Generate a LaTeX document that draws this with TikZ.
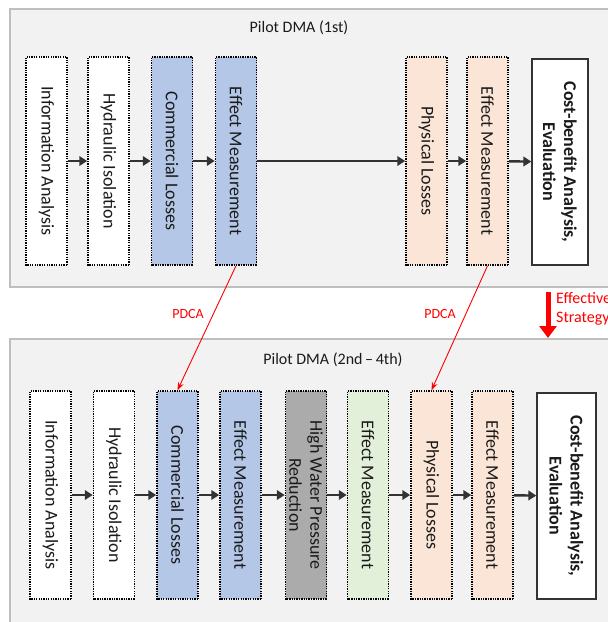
\documentclass[tikz,border=0pt]{standalone}
\usepackage{fontspec}
\setmainfont{Carlito}
\usetikzlibrary{arrows.meta}
\definecolor{panelfill}{HTML}{F2F2F2}
\definecolor{panelline}{HTML}{BFBFBF}
\definecolor{bluefill}{HTML}{B4C7E7}
\definecolor{orangefill}{HTML}{FBE5D6}
\definecolor{grayfill}{HTML}{ABABAB}
\definecolor{greenfill}{HTML}{E2F0D9}
\definecolor{arrowgray}{HTML}{333333}
\definecolor{txt}{HTML}{1A1A1A}
\begin{document}
\begin{tikzpicture}[x=1pt,y=-1pt,
  panel/.style={fill=panelfill, draw=panelline, line width=1.8pt},
  paneltitle/.style={font=\fontsize{16}{18}\selectfont, text=txt},
  box/.style={draw=black, line width=1.5pt, dash pattern=on 1.3pt off 1.1pt,
    rotate=-90, minimum width=208pt, minimum height=41pt, inner sep=0pt,
    font=\fontsize{18}{21}\selectfont, text=txt, align=center, fill=white},
  endbox/.style={draw=arrowgray, line width=1.3pt, rotate=-90,
    minimum width=206pt, inner sep=0pt, fill=white,
    font=\bfseries\fontsize{18}{21}\selectfont, text=txt, align=center},
  arr/.style={draw=arrowgray, line width=2.4pt, -{Triangle[length=8pt,width=9.5pt]}},
  redarr/.style={draw=red, line width=0.9pt, -{Stealth[length=8pt,width=6pt]}},
  redlabel/.style={text=red, font=\fontsize{14}{17}\selectfont},
]
\useasboundingbox (0,0) rectangle (608,622);
\clip (0,0) rectangle (608,622);

% panels
\path[panel] (10,9) rectangle (625,287);
\path[panel] (10,339) rectangle (625,640);
\node[paneltitle] (t1) at (299,28) {Pilot DMA (1st)};
\node[paneltitle] (t2) at (333,360) {Pilot DMA (2nd\,--\,4th)};

% row 1
\node[box] (a1) at (46.5,161) {Information Analysis};
\node[box] (b1) at (108.5,161) {Hydraulic Isolation};
\node[box, fill=bluefill] (c1) at (172,161) {Commercial Losses};
\node[box, fill=bluefill] (d1) at (236,161) {Effect Measurement};
\node[box, fill=orangefill] (e1) at (426.5,161) {Physical Losses};
\node[box, fill=orangefill] (f1) at (487.5,161) {Effect Measurement};
\node[endbox, minimum height=56pt] (g1) at (560,162) {Cost-benefit Analysis,\\Evaluation};

\draw[arr] (a1) -- (b1);
\draw[arr] (b1) -- (c1);
\draw[arr] (c1) -- (d1);
\draw[arr] (d1) -- (e1);
\draw[arr] (e1) -- (f1);
\draw[arr] (f1) -- (g1);

% row 2
\node[box] (a2) at (50.5,495) {Information Analysis};
\node[box] (b2) at (114,495) {Hydraulic Isolation};
\node[box, fill=bluefill] (c2) at (177.5,495) {Commercial Losses};
\node[box, fill=bluefill] (d2) at (240.5,495) {Effect Measurement};
\node[box, fill=grayfill] (h2) at (306,495) {High Water Pressure\\Reduction};
\node[box, fill=greenfill] (i2) at (368,495) {Effect Measurement};
\node[box, fill=orangefill] (e2) at (431.5,495) {Physical Losses};
\node[box, fill=orangefill] (f2) at (492.5,495) {Effect Measurement};
\node[endbox, minimum height=59pt] (g2) at (566.5,496) {Cost-benefit Analysis,\\Evaluation};

\draw[arr] (a2) -- (b2);
\draw[arr] (b2) -- (c2);
\draw[arr] (c2) -- (d2);
\draw[arr] (d2) -- (h2);
\draw[arr] (h2) -- (i2);
\draw[arr] (i2) -- (e2);
\draw[arr] (e2) -- (f2);
\draw[arr] (f2) -- (g2);

% PDCA links
\draw[redarr] (d1.east) -- (c2.west);
\draw[redarr] (f1.east) -- (e2.west);
\node[redlabel] (p1) at (188,314) {PDCA};
\node[redlabel] (p2) at (440,314) {PDCA};

% effective strategy
\coordinate (s1) at (548,292);
\coordinate (s2) at (548,338);
\draw[red, line width=5pt, -{Triangle[length=12pt,width=17pt]}] (s1) -- (s2);
\node[redlabel, font=\fontsize{16}{19}\selectfont, anchor=north west, align=left, inner sep=0pt] (es) at (556,292) {Effective\\Strategy};
\end{tikzpicture}
\end{document}
